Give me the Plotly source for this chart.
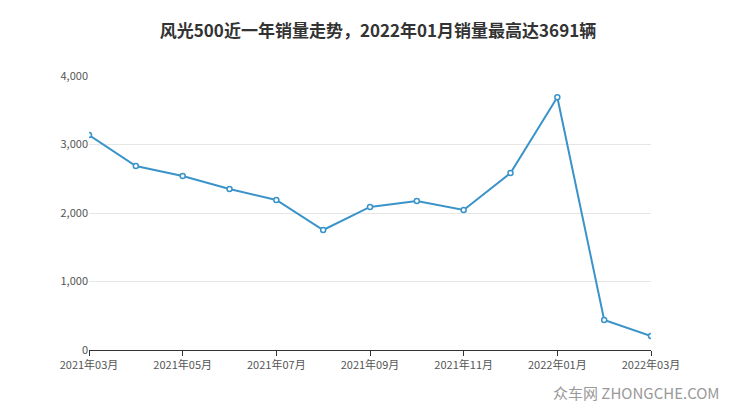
import plotly.graph_objects as go

months = ["2021年03月","2021年04月","2021年05月","2021年06月","2021年07月","2021年08月","2021年09月",
          "2021年10月","2021年11月","2021年12月","2022年01月","2022年02月","2022年03月"]
sales = [3139, 2686, 2540, 2350, 2190, 1752, 2088, 2175, 2044, 2584, 3691, 438, 204]
tick_labels = months[::2]
y_ticks = [0, 1000, 2000, 3000, 4000]

fig = go.Figure(go.Scatter(
    x=months, y=sales, mode="lines+markers",
    line=dict(color="#3a93c9", width=2),
    marker=dict(size=5, color="white", line=dict(color="#3a93c9", width=1.5)),
))
fig.update_layout(
    width=740, height=417, margin=dict(l=81, r=97, t=68, b=75),
    paper_bgcolor="white", plot_bgcolor="white", showlegend=False,
    font=dict(family="Noto Sans CJK SC", size=11, color="#555"),
    title=dict(text="<b>风光500近一年销量走势，2022年01月销量最高达3691辆</b>", x=0.5, y=0.96,
               xanchor="center", font=dict(size=17, color="#333")),
    xaxis=dict(type="category", tickvals=tick_labels, ticktext=tick_labels, range=[0, 12],
               showline=True, linecolor="#333", ticks="outside", ticklen=5, tickcolor="#333",
               showgrid=False, tickfont=dict(size=11, color="#555")),
    yaxis=dict(range=[0, 4000], tickvals=y_ticks, tickformat=",", gridcolor="#e6e6e6",
               zeroline=False, showline=False, tickfont=dict(size=11, color="#555")),
    annotations=[dict(text="众车网 ZHONGCHE.COM", xref="paper", yref="paper", x=1.126, y=-0.2,
                      xanchor="right", yanchor="bottom", showarrow=False,
                      font=dict(size=15, color="#999"))],
)
fig.write_html("out.html")
